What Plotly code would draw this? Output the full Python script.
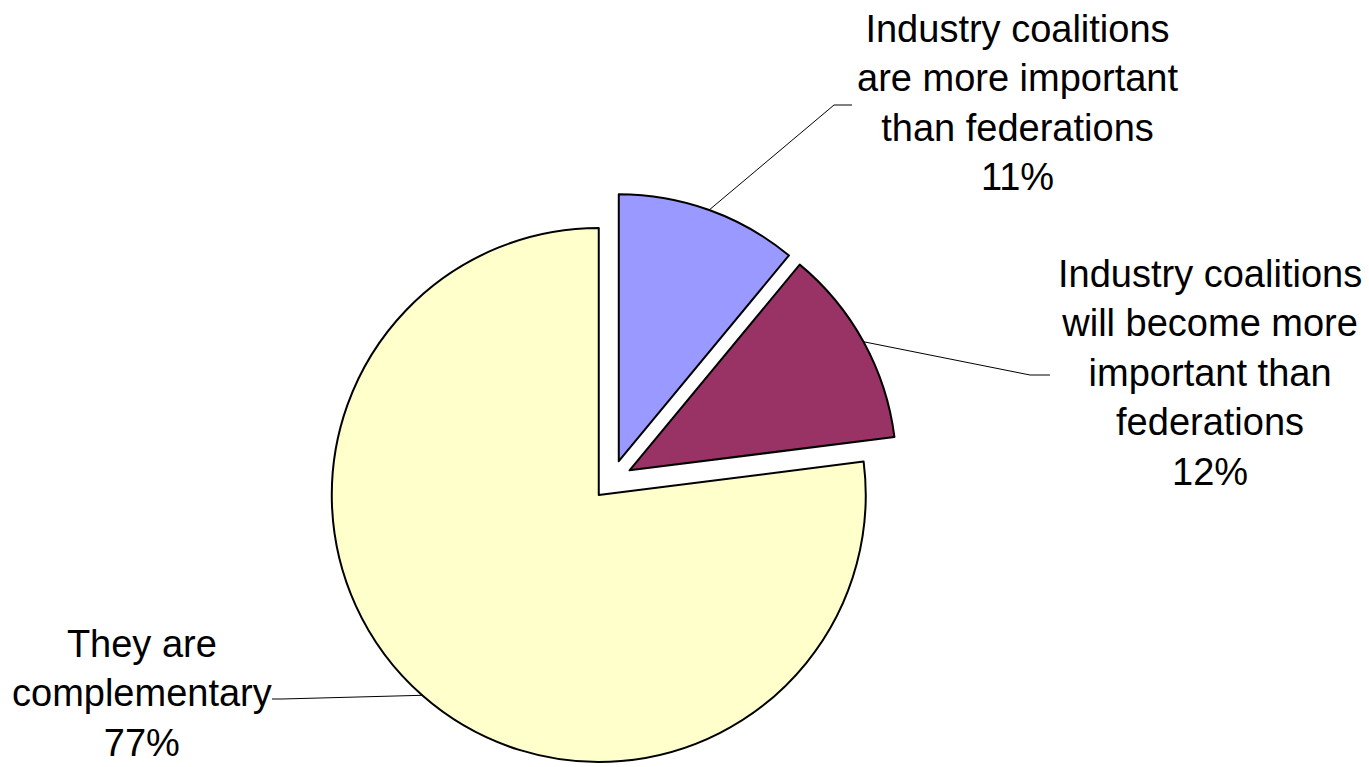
import math
import plotly.graph_objects as go

# Survey answers and their shares (%)
labels = [
    "Industry coalitions<br>are more important<br>than federations",
    "Industry coalitions<br>will become more<br>important than<br>federations",
    "They are<br>complementary",
]
values = [11, 12, 77]
colors = ["#9999FF", "#993366", "#FFFFCC"]

W, H = 1369, 767
FONT = "Liberation Sans, Arial, sans-serif"
FS = 38

# Pie placement in pixels (centre and half-size of the square pie box)
cx, cy = 612, 480
half = 287
pull = 0.075
r = half / (1 + pull)
d = r * pull

# Label block centres (pixels) and where each leader line bends
label_pos = [(1018, 103), (1210, 373), (142, 693)]
leader_end = [(852, 105), (1050, 375), (272, 699)]
leader_bend = [(834, 105), (1030, 375), (282, 699)]


def px(x, y):
    return x / W, 1 - y / H


fig = go.Figure(
    go.Pie(
        labels=labels,
        values=values,
        sort=False,
        direction="clockwise",
        rotation=0,
        pull=[pull] * len(values),
        marker=dict(colors=colors, line=dict(color="black", width=2)),
        textinfo="none",
        hoverinfo="label+percent",
        showlegend=False,
        domain=dict(x=[(cx - half) / W, (cx + half) / W],
                    y=[1 - (cy + half) / H, 1 - (cy - half) / H]),
    )
)

total = sum(values)
cum = 0
shapes, annotations = [], []
for i, v in enumerate(values):
    theta = math.radians(360 * (cum + v / 2) / total)
    cum += v
    sx, sy = math.sin(theta), -math.cos(theta)
    # point on the (pulled) arc at the slice's mid-angle
    ax_, ay_ = cx + sx * (d + r), cy + sy * (d + r)
    pts = [(ax_, ay_), leader_bend[i], leader_end[i]]
    path = "M " + " L ".join(f"{px(x, y)[0]},{px(x, y)[1]}" for x, y in pts)
    shapes.append(dict(type="path", xref="paper", yref="paper", path=path,
                       line=dict(color="black", width=1)))
    lx, ly = px(*label_pos[i])
    pct = round(100 * v / total)
    annotations.append(dict(
        x=lx, y=ly, xref="paper", yref="paper", xanchor="center", yanchor="middle",
        text=f"{labels[i]}<br>{pct}%", showarrow=False, align="center",
        font=dict(family=FONT, size=FS, color="black"),
    ))

fig.update_layout(
    width=W, height=H,
    margin=dict(l=0, r=0, t=0, b=0),
    paper_bgcolor="white",
    plot_bgcolor="white",
    shapes=shapes,
    annotations=annotations,
)

fig.write_html("out.html")
